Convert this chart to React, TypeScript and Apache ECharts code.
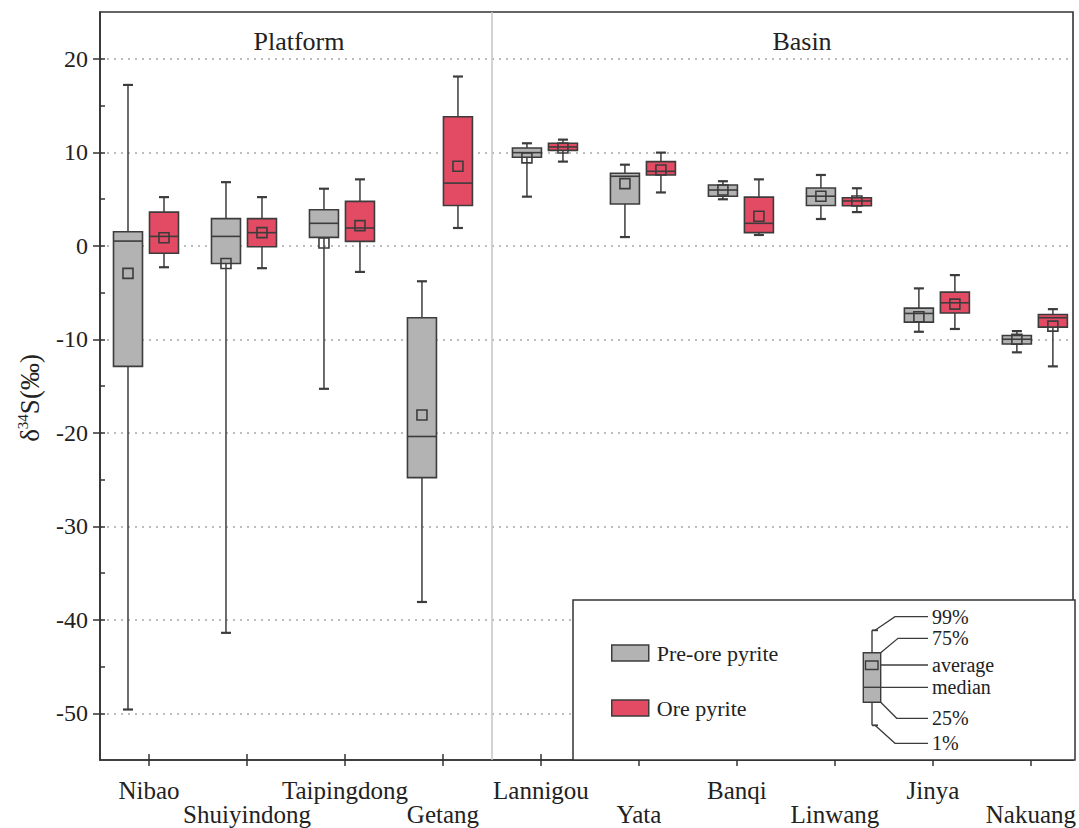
import React, { useEffect, useRef } from 'react';
import * as echarts from 'echarts';

// ---- data ----
const categories = ['Nibao', 'Shuiyindong', 'Taipingdong', 'Getang', 'Lannigou', 'Yata', 'Banqi', 'Linwang', 'Jinya', 'Nakuang'];
const groupNames = ['Platform', 'Basin'];
const platformCount = 4;

// each row: [1%, 25%, median, 75%, 99%, average]
const preOre = [
  [-49.6, -12.9, 0.5, 1.5, 17.2, -2.95],
  [-41.4, -1.9, 1.0, 2.9, 6.8, -1.9],
  [-15.3, 0.9, 2.4, 3.85, 6.1, 0.3],
  [-38.1, -24.8, -20.4, -7.7, -3.8, -18.1],
  [5.25, 9.46, 9.96, 10.46, 10.96, 9.4],
  [0.93, 4.46, 7.43, 7.75, 8.67, 6.64],
  [4.97, 5.3, 5.96, 6.5, 6.9, 5.96],
  [2.86, 4.3, 5.3, 6.18, 7.57, 5.29],
  [-9.2, -8.17, -7.24, -6.67, -4.56, -7.6],
  [-11.4, -10.5, -10.0, -9.6, -9.13, -10.0],
];
const ore = [
  [-2.3, -0.8, 1.0, 3.6, 5.2, 0.86],
  [-2.4, -0.1, 1.4, 2.9, 5.2, 1.4],
  [-2.8, 0.47, 1.9, 4.75, 7.1, 2.15],
  [1.9, 4.3, 6.7, 13.8, 18.1, 8.5],
  [9.0, 10.2, 10.57, 10.96, 11.35, 10.46],
  [5.7, 7.57, 7.96, 9.0, 9.96, 8.1],
  [1.15, 1.4, 2.4, 5.2, 7.1, 3.15],
  [3.6, 4.28, 4.79, 5.14, 6.15, 4.79],
  [-8.9, -7.2, -6.1, -4.96, -3.14, -6.24],
  [-12.9, -8.7, -7.7, -7.35, -6.78, -8.6],
];
const seriesNames = ['Pre-ore pyrite', 'Ore pyrite'];
const yTicks = [-50, -40, -30, -20, -10, 0, 10, 20];
const yMinorTicks = [-50, -45, -40, -35, -30, -25, -20, -15, -10, -5, 0, 5, 10, 15, 20];
const explainLabels = ['99%', '75%', 'average', 'median', '25%', '1%'];

const FONT = '"Liberation Serif", "Times New Roman", serif';
const GRAY = '#b3b3b3';
const RED = '#e24b63';
const STROKE = '#3c3c3c';
const TXT = '#222';

const catCenters = categories.map((_, i) => i + 0.5);

function makeRender(side: number, fill: string) {
  return (params: any, api: any) => {
    const xi = api.value(0);
    const p1 = api.value(1), q1 = api.value(2), med = api.value(3), q3 = api.value(4), p99 = api.value(5), mean = api.value(6);
    const base = api.coord([xi + 0.5, 0])[0];
    const cx = base + (xi < platformCount ? -3 : 4) + side;
    const Y = (v: number) => api.coord([xi + 0.5, v])[1];
    const hw = 14.5, cap = 5, m = 5;
    return {
      type: 'group',
      children: [
        { type: 'line', shape: { x1: cx, y1: Y(p1), x2: cx, y2: Y(p99) }, style: { stroke: STROKE, lineWidth: 1.5 } },
        { type: 'line', shape: { x1: cx - cap, y1: Y(p99), x2: cx + cap, y2: Y(p99) }, style: { stroke: STROKE, lineWidth: 2.2 } },
        { type: 'line', shape: { x1: cx - cap, y1: Y(p1), x2: cx + cap, y2: Y(p1) }, style: { stroke: STROKE, lineWidth: 2.2 } },
        { type: 'rect', shape: { x: cx - hw, y: Y(q3), width: hw * 2, height: Y(q1) - Y(q3) }, style: { fill, stroke: STROKE, lineWidth: 1.6 } },
        { type: 'line', shape: { x1: cx - hw, y1: Y(med), x2: cx + hw, y2: Y(med) }, style: { stroke: STROKE, lineWidth: 1.6 } },
        { type: 'rect', shape: { x: cx - m, y: Y(mean) - m, width: m * 2, height: m * 2 }, style: { fill: 'none', stroke: STROKE, lineWidth: 1.6 } },
      ],
    };
  };
}

function explainGraphic() {
  const lx = 928, tx = 932;
  const ys = [616.7, 638.3, 665, 687.3, 718.3, 743.3];
  const conn = [
    [[875, 630.3], [895, ys[0]], [lx, ys[0]]],
    [[880.7, 652.7], [898, ys[1]], [lx, ys[1]]],
    [[878, ys[2]], [lx, ys[2]]],
    [[880.7, ys[3]], [lx, ys[3]]],
    [[880.7, 702.3], [896.7, ys[4]], [lx, ys[4]]],
    [[875, 725.3], [895, ys[5]], [lx, ys[5]]],
  ];
  const els: any[] = [
    { type: 'line', z: 10, shape: { x1: 872, y1: 630.3, x2: 872, y2: 725.3 }, style: { stroke: STROKE, lineWidth: 1.4 } },
    { type: 'line', z: 10, shape: { x1: 872, y1: 630.3, x2: 878, y2: 630.3 }, style: { stroke: STROKE, lineWidth: 1.8 } },
    { type: 'line', z: 10, shape: { x1: 872, y1: 725.3, x2: 878, y2: 725.3 }, style: { stroke: STROKE, lineWidth: 1.8 } },
    { type: 'rect', z: 11, shape: { x: 863.3, y: 652.7, width: 17.4, height: 49.6 }, style: { fill: GRAY, stroke: STROKE, lineWidth: 1.4 } },
    { type: 'rect', z: 12, shape: { x: 865.5, y: 661, width: 12.5, height: 8.5 }, style: { fill: 'none', stroke: STROKE, lineWidth: 1.4 } },
    { type: 'line', z: 12, shape: { x1: 863.3, y1: 687.3, x2: 880.7, y2: 687.3 }, style: { stroke: STROKE, lineWidth: 1.4 } },
  ];
  conn.forEach((pts) => {
    els.push({ type: 'polyline', z: 10, shape: { points: pts }, style: { stroke: STROKE, lineWidth: 1.3, fill: 'none' } });
  });
  explainLabels.forEach((t, i) => {
    els.push({ type: 'text', z: 10, x: tx, y: ys[i], style: { text: t, fontFamily: FONT, fontSize: 20, lineHeight: 19, fill: TXT, align: 'left', verticalAlign: 'middle' } });
  });
  return els;
}

export default function App() {
  const ref = useRef<HTMLDivElement>(null);
  useEffect(() => {
    if (!ref.current) return;
    const chart = echarts.init(ref.current, null, { renderer: 'svg' });
    const xMax = 9.93;
    const option: any = {
      animation: false,
      backgroundColor: '#fff',
      textStyle: { fontFamily: FONT, color: TXT },
      grid: { left: 100, right: 4, top: 12, height: 748, show: true, borderColor: '#333', borderWidth: 1.6, backgroundColor: 'transparent' },
      legend: {
        left: 611, top: 642, orient: 'vertical', itemGap: 33, itemWidth: 37, itemHeight: 16, padding: 0,
        icon: 'rect', selectedMode: false,
        textStyle: { fontFamily: FONT, fontSize: 22, color: TXT, lineHeight: 20, padding: [0, 0, 0, 3] },
        data: [
          { name: seriesNames[0], itemStyle: { color: GRAY, borderColor: STROKE, borderWidth: 1.5 } },
          { name: seriesNames[1], itemStyle: { color: RED, borderColor: STROKE, borderWidth: 1.5 } },
        ],
        z: 20,
      },
      xAxis: [
        {
          type: 'value', min: 0, max: xMax,
          axisLine: { show: true, onZero: false, lineStyle: { color: '#333', width: 1.6 } },
          axisTick: { show: true, length: 6, customValues: catCenters, lineStyle: { color: '#333', width: 1.5 } },
          axisLabel: {
            show: true, customValues: catCenters, margin: 18, fontFamily: FONT, fontSize: 25, color: TXT, lineHeight: 24,
            formatter: (v: number) => {
              const i = Math.round(v - 0.5);
              return i % 2 === 0 ? categories[i] : '\n' + categories[i];
            },
          },
          splitLine: { show: false },
        },
        {
          type: 'value', min: 0, max: xMax, position: 'bottom',
          axisLine: { show: false, onZero: false },
          axisTick: { show: true, inside: true, length: 6, customValues: catCenters, lineStyle: { color: '#333', width: 1.5 } },
          axisLabel: { show: false },
          splitLine: { show: false },
        },
      ],
      yAxis: [
        {
          type: 'value', min: -55, max: 25,
          axisLine: { show: true, onZero: false, lineStyle: { color: '#333', width: 1.6 } },
          axisTick: { show: true, length: 7, customValues: yTicks, lineStyle: { color: '#333', width: 1.5 } },
          axisLabel: { show: true, customValues: yTicks, margin: 12, fontFamily: FONT, fontSize: 24, color: TXT },
          splitLine: { show: true, lineStyle: { color: '#a8a8a8', width: 1.5, type: [2, 5] } },
        },
        {
          type: 'value', min: -55, max: 25, position: 'left',
          axisLine: { show: false, onZero: false },
          axisTick: { show: true, inside: true, length: 5, customValues: yMinorTicks, lineStyle: { color: '#333', width: 1.5 } },
          axisLabel: { show: false },
          splitLine: { show: false },
        },
      ],
      series: [
        {
          name: seriesNames[0], type: 'custom', xAxisIndex: 0, yAxisIndex: 0, z: 5,
          itemStyle: { color: GRAY, borderColor: STROKE },
          renderItem: makeRender(-18, GRAY),
          data: preOre.map((r, i) => [i, ...r]),
          markLine: {
            silent: true, symbol: 'none', label: { show: false },
            lineStyle: { color: '#c4c4c4', width: 1.5, type: 'solid' },
            data: [{ xAxis: platformCount }],
          },
        },
        {
          name: seriesNames[1], type: 'custom', xAxisIndex: 0, yAxisIndex: 0, z: 5,
          itemStyle: { color: RED, borderColor: STROKE },
          renderItem: makeRender(18, RED),
          data: ore.map((r, i) => [i, ...r]),
        },
      ],
      graphic: [
        { type: 'rect', z: 8, shape: { x: 573, y: 600, width: 502, height: 160 }, style: { fill: '#fff', stroke: '#333', lineWidth: 1.5 } },
        { type: 'text', z: 10, x: 299, y: 41, style: { text: groupNames[0], font: `26px ${FONT}`, fill: TXT, align: 'center', verticalAlign: 'middle' } },
        { type: 'text', z: 10, x: 802, y: 41, style: { text: groupNames[1], font: `26px ${FONT}`, fill: TXT, align: 'center', verticalAlign: 'middle' } },
        {
          type: 'text', z: 10, x: 30, y: 398, rotation: Math.PI / 2,
          style: {
            text: '{a|δ}{s|34}{a|S(‰)}', align: 'center', verticalAlign: 'middle', fill: TXT,
            rich: {
              a: { fontFamily: FONT, fontSize: 27, fill: TXT, lineHeight: 30 },
              s: { fontFamily: FONT, fontSize: 15, fill: TXT, verticalAlign: 'top' },
            },
          },
        },
        ...explainGraphic(),
      ],
    };
    chart.setOption(option);
    return () => chart.dispose();
  }, []);
  return <div ref={ref} style={{ position: 'fixed', left: 0, top: 0, width: 1079, height: 828, background: '#fff' }} />;
}
